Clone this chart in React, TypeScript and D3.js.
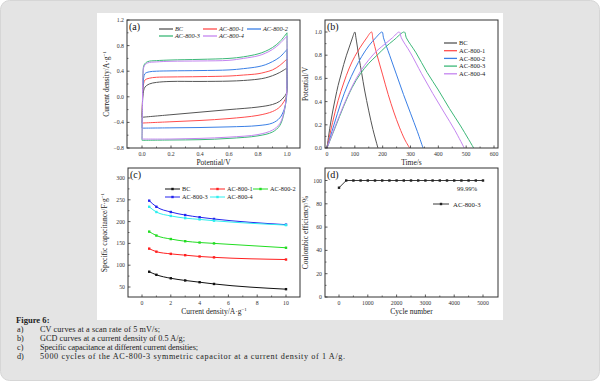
import React, { useEffect } from "react";
import * as d3 from "d3";

// ---------- DATA ----------
const seriesNames = ["BC", "AC-800-1", "AC-800-2", "AC-800-3", "AC-800-4"];

// (a) CV curves: [potential V, current density A/g]
const cvUpperBC = [[0,-0.32],[0.003,-0.1],[0.008,0.05],[0.02,0.15],[0.05,0.2],[0.1,0.225],[0.2,0.24],[0.4,0.24],[0.6,0.245],[0.7,0.255],[0.8,0.275],[0.85,0.295],[0.9,0.33],[0.95,0.38],[1.0,0.45]];
const cvLowerBC = [[1.0,0.45],[1.0,0.15],[0.995,0.05],[0.98,0.0],[0.95,-0.07],[0.9,-0.12],[0.8,-0.16],[0.6,-0.2],[0.4,-0.24],[0.2,-0.28],[0.0,-0.32]];
const cvUpper1 = [[0,-0.41],[0.003,-0.1],[0.008,0.15],[0.02,0.26],[0.05,0.29],[0.1,0.305],[0.2,0.31],[0.4,0.315],[0.6,0.325],[0.7,0.34],[0.8,0.36],[0.85,0.385],[0.9,0.42],[0.95,0.49],[1.0,0.59]];
const cvLower1 = [[1.0,0.59],[1.0,0.15],[0.995,0.0],[0.98,-0.07],[0.95,-0.16],[0.9,-0.23],[0.8,-0.29],[0.6,-0.34],[0.4,-0.37],[0.2,-0.39],[0.0,-0.41]];
const cvUpper2 = [[0,-0.49],[0.003,-0.2],[0.008,0.2],[0.02,0.36],[0.05,0.39],[0.1,0.4],[0.2,0.405],[0.4,0.41],[0.6,0.42],[0.7,0.44],[0.8,0.47],[0.85,0.5],[0.9,0.55],[0.95,0.62],[1.0,0.74]];
const cvLower2 = [[1.0,0.74],[1.0,0.15],[0.995,-0.05],[0.98,-0.2],[0.95,-0.33],[0.9,-0.41],[0.8,-0.45],[0.6,-0.47],[0.4,-0.48],[0.2,-0.485],[0.0,-0.49]];
const cvUpper3 = [[0,-0.68],[0.003,-0.2],[0.006,0.3],[0.015,0.5],[0.04,0.55],[0.1,0.565],[0.2,0.575],[0.4,0.585],[0.6,0.6],[0.7,0.625],[0.8,0.67],[0.85,0.71],[0.9,0.77],[0.95,0.86],[1.0,1.0]];
const cvLower3 = [[1.0,1.0],[1.0,0.3],[0.995,0.0],[0.98,-0.25],[0.95,-0.45],[0.9,-0.55],[0.8,-0.61],[0.6,-0.65],[0.4,-0.67],[0.2,-0.675],[0.0,-0.68]];
const cvUpper4 = [[0,-0.66],[0.003,-0.2],[0.006,0.3],[0.015,0.48],[0.04,0.53],[0.1,0.545],[0.2,0.555],[0.4,0.56],[0.6,0.57],[0.7,0.6],[0.8,0.64],[0.85,0.68],[0.9,0.74],[0.95,0.83],[1.0,0.95]];
const cvLower4 = [[1.0,0.95],[1.0,0.3],[0.995,0.0],[0.98,-0.23],[0.95,-0.42],[0.9,-0.52],[0.8,-0.59],[0.6,-0.63],[0.4,-0.65],[0.2,-0.66],[0.0,-0.66]];

// (b) GCD curves: [time s, potential V]
const gcdBC = [[0,0],[10,0.17],[20,0.31],[30,0.43],[40,0.54],[50,0.63],[60,0.72],[70,0.8],[80,0.87],[90,0.94],[100,1.0],[104,0.95],[115,0.78],[125,0.64],[135,0.5],[150,0.32],[165,0.16],[183,0]];
const gcd1 = [[0,0],[20,0.22],[40,0.41],[60,0.56],[80,0.69],[100,0.79],[120,0.87],[140,0.94],[160,1.0],[165,0.94],[180,0.8],[200,0.63],[220,0.46],[240,0.31],[260,0.18],[280,0.07],[297,0]];
const gcd2 = [[0,0],[25,0.2],[50,0.39],[75,0.55],[100,0.68],[125,0.79],[150,0.88],[175,0.95],[198,1.0],[203,0.95],[225,0.8],[250,0.63],[275,0.46],[300,0.3],[325,0.14],[345,0]];
const gcd3 = [[0,0],[30,0.18],[60,0.36],[90,0.52],[120,0.64],[150,0.73],[180,0.8],[210,0.87],[240,0.93],[278,1.0],[285,0.95],[320,0.82],[360,0.65],[400,0.5],[440,0.34],[480,0.19],[527,0]];
const gcd4 = [[0,0],[30,0.19],[60,0.37],[90,0.53],[120,0.66],[150,0.76],[180,0.84],[210,0.9],[235,0.95],[260,1.0],[267,0.95],[300,0.82],[340,0.64],[380,0.47],[420,0.31],[460,0.15],[493,0]];

// (c) specific capacitance
const currentDensities = [0.5, 1, 2, 3, 4, 5, 10];
const capBC = [85, 78, 70, 65, 61, 57, 45];
const cap1 = [138, 131, 126, 123, 120, 118, 113];
const cap2 = [177, 168, 160, 155, 152, 150, 140];
const cap3 = [248, 234, 222, 215, 210, 206, 193];
const cap4 = [234, 222, 213, 208, 205, 202, 192];

// (d) cycling
const cycles = [0,250,500,750,1000,1250,1500,1750,2000,2250,2500,2750,3000,3250,3500,3750,4000,4250,4500,4750,5000];
const efficiency = [93.8,99.99,99.99,99.99,99.99,99.99,99.99,99.99,99.99,99.99,99.99,99.99,99.99,99.99,99.99,99.99,99.99,99.99,99.99,99.99,99.99];

// tick labels
const ticksAx = [0, 0.2, 0.4, 0.6, 0.8, 1.0];
const ticksAy = [-0.8, -0.4, 0.0, 0.4, 0.8, 1.2];
const ticksBx = [0, 100, 200, 300, 400, 500, 600];
const ticksBy = [0, 0.2, 0.4, 0.6, 0.8, 1.0];
const ticksCx = [0, 2, 4, 6, 8, 10];
const ticksCy = [50, 100, 150, 200, 250, 300];
const ticksDx = [0, 1000, 2000, 3000, 4000, 5000];
const ticksDy = [0, 20, 40, 60, 80, 100];

const captionLines = [
  ["a)", "CV curves at a scan rate of 5 mV/s;"],
  ["b)", "GCD curves at a current density of 0.5 A/g;"],
  ["c)", "Specific capacitance at different current densities;"],
  ["d)", "5000 cycles of the AC-800-3 symmetric capacitor at a current density of 1 A/g."],
];
const captionWidths = [120, 145, 158, 305];

// ---------- STYLE ----------
const FONT = "'Liberation Serif', 'Times New Roman', serif";
const colorsAB = ["#555555", "#ff4d4d", "#3a7fe6", "#3cb878", "#c485f0"];
const colorsC = ["#111111", "#ff2020", "#22dd22", "#2424ee", "#30eeee"];
const AXIS = "#333";

type Box = { x0: number; x1: number; y0: number; y1: number };

function Frame({ box, x, y, xt, yt, xMinor, yMinor, xfmt, yfmt, xlabel, ylabel, tag, ylabelX }: any) {
  return (
    <g fontFamily={FONT}>
      <rect x={box.x0} y={box.y0} width={box.x1 - box.x0} height={box.y1 - box.y0} fill="none" stroke={AXIS} strokeWidth={1} />
      {xt.map((t: number) => (
        <g key={"x" + t}>
          <line x1={x(t)} x2={x(t)} y1={box.y1} y2={box.y1 - 2.5} stroke={AXIS} strokeWidth={0.8} />
          <text x={x(t)} y={box.y1 + 8} fontSize={5.8} textAnchor="middle" fill="#333">{xfmt(t)}</text>
        </g>
      ))}
      {xMinor.map((t: number) => (
        <line key={"xm" + t} x1={x(t)} x2={x(t)} y1={box.y1} y2={box.y1 - 1.5} stroke={AXIS} strokeWidth={0.7} />
      ))}
      {yt.map((t: number) => (
        <g key={"y" + t}>
          <line x1={box.x0} x2={box.x0 + 2.5} y1={y(t)} y2={y(t)} stroke={AXIS} strokeWidth={0.8} />
          <text x={box.x0 - 3} y={y(t) + 2} fontSize={5.8} textAnchor="end" fill="#333">{yfmt(t)}</text>
        </g>
      ))}
      {yMinor.map((t: number) => (
        <line key={"ym" + t} x1={box.x0} x2={box.x0 + 1.5} y1={y(t)} y2={y(t)} stroke={AXIS} strokeWidth={0.7} />
      ))}
      <text x={(box.x0 + box.x1) / 2} y={box.y1 + 17} fontSize={7.5} textAnchor="middle" fill="#222">{xlabel}</text>
      <text transform={`translate(${ylabelX},${(box.y0 + box.y1) / 2}) rotate(-90)`} fontSize={7.5} textAnchor="middle" fill="#222">{ylabel}</text>
      <text x={box.x0 + 2} y={box.y0 + 10} fontSize={10} fill="#111">{tag}</text>
    </g>
  );
}

const sup = (s: string) => <tspan fontSize={5} dy={-3}>{s}</tspan>;

export default function App() {
  useEffect(() => {
    document.body.style.margin = "0";
  }, []);

  // panel boxes
  const bA: Box = { x0: 127, x1: 300, y0: 20, y1: 148 };
  const bB: Box = { x0: 325, x1: 498, y0: 20, y1: 148 };
  const bC: Box = { x0: 128, x1: 300, y0: 168, y1: 297 };
  const bD: Box = { x0: 325, x1: 498, y0: 168, y1: 297 };

  const xA = d3.scaleLinear().domain([0, 1]).range([142, 287]);
  const yA = d3.scaleLinear().domain([-0.8, 1.2]).range([148, 20]);
  const xB = d3.scaleLinear().domain([0, 600]).range([327, 494]);
  const yB = d3.scaleLinear().domain([0, 1]).range([148, 32]);
  const xC = d3.scaleLinear().domain([0, 10]).range([142, 286]);
  const yC = d3.scaleLinear().domain([50, 300]).range([287, 178]);
  const xD = d3.scaleLinear().domain([0, 5000]).range([339, 483]);
  const yD = d3.scaleLinear().domain([0, 100]).range([297, 180.5]);

  const cvLine = d3.line<number[]>().x((d) => xA(d[0])).y((d) => yA(d[1])).curve(d3.curveCatmullRom.alpha(0.5));
  const gcdLine = d3.line<number[]>().x((d) => xB(d[0])).y((d) => yB(d[1])).curve(d3.curveCatmullRom.alpha(0.5));
  const capLine = d3.line<[number, number]>().x((d) => xC(d[0])).y((d) => yC(d[1])).curve(d3.curveMonotoneX);
  const dLine = d3.line<[number, number]>().x((d) => xD(d[0])).y((d) => yD(d[1]));

  const cvData = [
    [cvUpperBC, cvLowerBC],
    [cvUpper1, cvLower1],
    [cvUpper2, cvLower2],
    [cvUpper3, cvLower3],
    [cvUpper4, cvLower4],
  ];
  const gcdData = [gcdBC, gcd1, gcd2, gcd3, gcd4];
  const capData = [capBC, cap1, cap2, cap3, cap4];

  const f1 = d3.format(".1f");
  const f0 = d3.format("d");

  // legend positions (a) & (c)
  const legA = [
    { x: 159, y: 29 }, { x: 203, y: 29 }, { x: 247, y: 29 }, { x: 159, y: 36 }, { x: 203, y: 36 },
  ];
  const legC = [
    { x: 165, y: 189 }, { x: 210, y: 189 }, { x: 253, y: 189 }, { x: 165, y: 197 }, { x: 210, y: 197 },
  ];

  const dPts: [number, number][] = cycles.map((c, i) => [c, efficiency[i]]);

  return (
    <svg width={600} height={381} style={{ position: "absolute", left: 0, top: 0, display: "block" }}>
      <rect x={0} y={0} width={600} height={381} fill="#ffffff" />
      <rect x={0.5} y={0.5} width={599} height={380} rx={9} fill="#e4e4e4" stroke="#d6d6d6" />
      <rect x={97} y={13} width={406} height={307} fill="#ffffff" />

      {/* (a) */}
      <g>
        <defs>
          <clipPath id="clipA"><rect x={bA.x0} y={bA.y0} width={bA.x1 - bA.x0} height={bA.y1 - bA.y0} /></clipPath>
        </defs>
        <g clipPath="url(#clipA)">
          {cvData.map((pair, i) => (
            <g key={i}>
              <path d={cvLine(pair[0] as any) || ""} fill="none" stroke={colorsAB[i]} strokeWidth={1} />
              <path d={cvLine(pair[1] as any) || ""} fill="none" stroke={colorsAB[i]} strokeWidth={1} />
            </g>
          ))}
        </g>
        <Frame box={bA} x={xA} y={yA} xt={ticksAx} yt={ticksAy}
          xMinor={[0.1, 0.3, 0.5, 0.7, 0.9]} yMinor={[-0.6, -0.2, 0.2, 0.6, 1.0]}
          xfmt={f1} yfmt={f1} xlabel="Potential/V"
          ylabel={<>Current density/A·g{sup("−1")}</>} tag="(a)" ylabelX={109} />
        {seriesNames.map((n, i) => (
          <g key={n} fontFamily={FONT}>
            <line x1={legA[i].x} x2={legA[i].x + 14} y1={legA[i].y} y2={legA[i].y} stroke={colorsAB[i]} strokeWidth={1.3} />
            <text x={legA[i].x + 16} y={legA[i].y + 2} fontSize={6.3} fontStyle="italic" fill="#222">{n}</text>
          </g>
        ))}
      </g>

      {/* (b) */}
      <g>
        {gcdData.map((d, i) => (
          <path key={i} d={gcdLine(d as any) || ""} fill="none" stroke={colorsAB[i]} strokeWidth={1} />
        ))}
        <Frame box={bB} x={xB} y={yB} xt={ticksBx} yt={ticksBy}
          xMinor={[50, 150, 250, 350, 450, 550]} yMinor={[0.1, 0.3, 0.5, 0.7, 0.9]}
          xfmt={f0} yfmt={f1} xlabel="Time/s" ylabel="Potential/V" tag="(b)" ylabelX={308} />
        {seriesNames.map((n, i) => (
          <g key={n} fontFamily={FONT}>
            <line x1={444} x2={457} y1={43 + i * 7.7} y2={43 + i * 7.7} stroke={colorsAB[i]} strokeWidth={1.3} />
            <text x={459} y={43 + i * 7.7 + 2.2} fontSize={6.5} fill="#222">{n}</text>
          </g>
        ))}
      </g>

      {/* (c) */}
      <g>
        {capData.map((vals, i) => {
          const pts: [number, number][] = currentDensities.map((c, j) => [c, vals[j]]);
          return (
            <g key={i}>
              <path d={capLine(pts) || ""} fill="none" stroke={colorsC[i]} strokeWidth={1} />
              {pts.map((p, j) => (
                <rect key={j} x={xC(p[0]) - 1.2} y={yC(p[1]) - 1.2} width={2.4} height={2.4} fill={colorsC[i]} />
              ))}
            </g>
          );
        })}
        <Frame box={bC} x={xC} y={yC} xt={ticksCx} yt={ticksCy}
          xMinor={[1, 3, 5, 7, 9]} yMinor={[75, 125, 175, 225, 275]}
          xfmt={f0} yfmt={f0}
          xlabel={<>Current density/A·g{sup("−1")}</>}
          ylabel={<>Specific capacitance/F·g{sup("−1")}</>} tag="(c)" ylabelX={107} />
        {seriesNames.map((n, i) => (
          <g key={n} fontFamily={FONT}>
            <line x1={legC[i].x} x2={legC[i].x + 15} y1={legC[i].y} y2={legC[i].y} stroke={colorsC[i]} strokeWidth={1} />
            <rect x={legC[i].x + 6.3} y={legC[i].y - 1.2} width={2.4} height={2.4} fill={colorsC[i]} />
            <text x={legC[i].x + 17} y={legC[i].y + 2} fontSize={6.3} fill="#222">{n}</text>
          </g>
        ))}
      </g>

      {/* (d) */}
      <g>
        <path d={dLine(dPts) || ""} fill="none" stroke="#222" strokeWidth={0.9} />
        {dPts.map((p, j) => (
          <rect key={j} x={xD(p[0]) - 1.2} y={yD(p[1]) - 1.2} width={2.4} height={2.4} fill="#222" />
        ))}
        <Frame box={bD} x={xD} y={yD} xt={ticksDx} yt={ticksDy}
          xMinor={[500, 1500, 2500, 3500, 4500]} yMinor={[10, 30, 50, 70, 90]}
          xfmt={f0} yfmt={f0} xlabel="Cycle number" ylabel="Coulombic efficiency/%" tag="(d)" ylabelX={308} />
        <text x={457} y={191} fontSize={6.5} fontFamily={FONT} fill="#222">99.99%</text>
        <line x1={433} x2={449} y1={204} y2={204} stroke="#222" strokeWidth={0.9} />
        <rect x={439.8} y={202.8} width={2.4} height={2.4} fill="#222" />
        <text x={453} y={206.5} fontSize={6.8} fontFamily={FONT} fill="#222">AC-800-3</text>
      </g>

      {/* caption */}
      <g fontFamily={FONT} fill="#222">
        <text x={16} y={322.5} fontSize={8.6} fontWeight="bold">Figure 6:</text>
        {captionLines.map((l, i) => (
          <g key={i}>
            <text x={17} y={331.5 + i * 9.2} fontSize={8.2}>{l[0]}</text>
            <text x={40} y={331.5 + i * 9.2} fontSize={8.2} textLength={captionWidths[i]} lengthAdjust="spacing">{l[1]}</text>
          </g>
        ))}
      </g>
    </svg>
  );
}
